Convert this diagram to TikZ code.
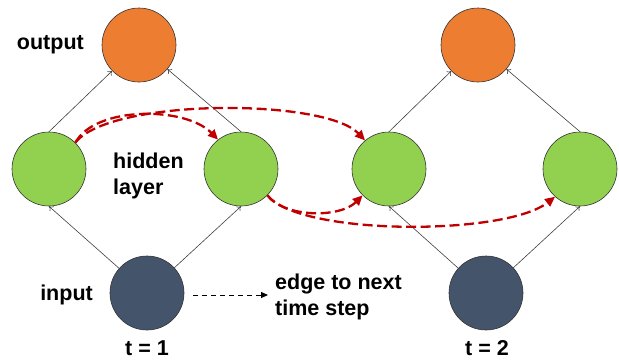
\documentclass[tikz,border=0pt]{standalone}
\usepackage{fontspec}
\setmainfont{Liberation Sans}
\usetikzlibrary{arrows.meta}
\definecolor{outc}{RGB}{237,125,49}
\definecolor{hidc}{RGB}{146,208,80}
\definecolor{inc}{RGB}{68,84,106}
\definecolor{redc}{RGB}{192,0,0}
\begin{document}
\begin{tikzpicture}[x=1pt,y=-1pt,
  unit/.style={circle,draw=black!80,line width=0.6pt,minimum size=74pt,inner sep=0pt},
  outn/.style={unit,fill=outc},
  hidn/.style={unit,fill=hidc},
  inn/.style={unit,fill=inc},
  lbl/.style={font=\bfseries\fontsize{21.5}{26}\selectfont,align=left,inner sep=0pt},
  conn/.style={draw=black!75,line width=0.6pt,-{To[length=4pt,width=6pt]}},
  rec/.style={draw=redc,line width=2.3pt,dash pattern=on 10pt off 4.5pt,-{Triangle[length=10pt,width=9pt]}},
  nxt/.style={draw=black,line width=1pt,dash pattern=on 5pt off 4pt,-{Triangle[length=7pt,width=6pt]}}]
\useasboundingbox (0,0) rectangle (619,360);
% t = 1
\node[outn] (o1) at (139,45) {};
\node[hidn] (h1) at (49,169) {};
\node[hidn] (h2) at (241,169) {};
\node[inn]  (i1) at (147,293) {};
% t = 2
\node[outn] (o2) at (478,45) {};
\node[hidn] (h3) at (389,169) {};
\node[hidn] (h4) at (580,169) {};
\node[inn]  (i2) at (486,293) {};
% feed-forward edges
\draw[conn] (i1) -- (h1.south);
\draw[conn] (i1) -- (h2.south);
\draw[conn] (h1.north) -- (o1);
\draw[conn] (h2.north) -- (o1);
\draw[conn] (i2) -- (h3.south);
\draw[conn] (i2) -- (h4.south);
\draw[conn] (h3.north) -- (o2);
\draw[conn] (h4.north) -- (o2);
% recurrent edges
\draw[rec] (h1.45) .. controls (95,106) and (185,106) .. (h2.128);
\draw[rec] (h1.45) .. controls (110,98) and (325,98) .. (h3.130);
\draw[rec] (h2.-45) .. controls (285,218) and (340,218) .. (h3.225);
\draw[rec] (h2.-45) .. controls (300,236) and (505,236) .. (h4.228);
% labels
\node[lbl,anchor=east] (lo) at (84,45) {output};
\node[lbl,anchor=west] (lh) at (113,176) {hidden\\layer};
\node[lbl,anchor=east] (li) at (93,295) {input};
\node[lbl,anchor=west] (le) at (275,297) {edge to next\\time step};
\node[lbl] (t1) at (147,348) {t = 1};
\node[lbl] (t2) at (487,348) {t = 2};
\coordinate (ns) at (193,295);
\coordinate (ne) at (268,295);
\draw[nxt] (ns) -- (ne);
\end{tikzpicture}
\end{document}
